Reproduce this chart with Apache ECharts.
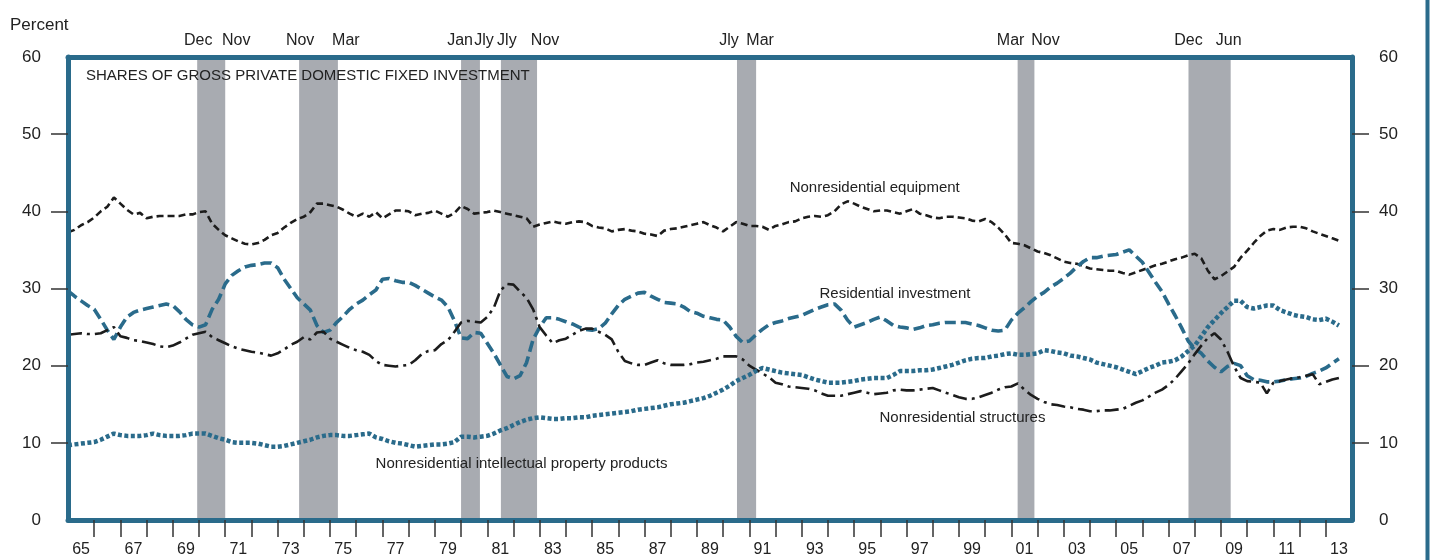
<!DOCTYPE html>
<html>
<head>
<meta charset="utf-8">
<script src="https://cdn.jsdelivr.net/npm/echarts@6/dist/echarts.min.js"></script>
<style>
  html, body { margin: 0; padding: 0; background: #fff; }
  #chart { width: 1437px; height: 560px; }
</style>
</head>
<body>
<div id="chart"></div>
<script>
// quarterly shares (percent), first value is 1965 Q1
const startYear = 1965

const equipment = [
  37.3, 37.6, 38.2, 38.6,  39.2, 40.0, 40.6, 41.8,  41.0, 40.2, 39.6, 39.8,  39.1, 39.3, 39.4, 39.4,
  39.4, 39.4, 39.6, 39.6,  39.9, 40.0, 38.4, 37.6,  36.9, 36.5, 36.1, 35.8,  35.7, 35.9, 36.3, 36.9,
  37.2, 37.9, 38.5, 39.0,  39.3, 39.9, 41.0, 41.0,  40.8, 40.6, 40.2, 39.7,  39.3, 39.7, 39.3, 39.9,
  39.1, 39.6, 40.1, 40.1,  40.0, 39.5, 39.7, 39.8,  40.1, 39.7, 39.3, 39.8,  40.7, 40.3, 39.7, 39.8,
  39.9, 40.1, 39.9, 39.7,  39.5, 39.3, 39.1, 38.0,  38.3, 38.5, 38.7, 38.5,  38.4, 38.6, 38.7, 38.6,
  38.1, 37.9, 37.8, 37.4,  37.6, 37.7, 37.5, 37.4,  37.1, 37.0, 36.8, 37.5,  37.7, 37.8, 38.0, 38.2,
  38.4, 38.6, 38.2, 37.9,  37.4, 38.0, 38.6, 38.4,  38.1, 38.1, 38.0, 37.6,  38.1, 38.3, 38.6, 38.7,
  39.1, 39.3, 39.4, 39.3,  39.5, 40.0, 40.9, 41.3,  41.0, 40.6, 40.3, 40.0,  40.1, 40.1, 39.9, 39.7,
  40.0, 40.3, 39.7, 39.5,  39.2, 39.1, 39.3, 39.3,  39.2, 39.1, 38.8, 38.7,  39.0, 38.6, 37.9, 37.0,
  35.9, 35.8, 35.6, 35.2,  34.8, 34.6, 34.3, 33.9,  33.5, 33.3, 33.2, 32.9,  32.6, 32.5, 32.4, 32.3,
  32.3, 32.0, 31.8, 32.1,  32.4, 32.7, 33.0, 33.2,  33.5, 33.8, 34.0, 34.3,  34.5, 33.9, 32.3, 31.2,
  31.6, 32.2, 32.8, 34.0,  34.9, 35.9, 36.8, 37.5,  37.7, 37.6, 37.9, 38.0,  38.0, 37.8, 37.4, 37.1,
  36.8, 36.5, 36.2
]

const residential = [
  29.7, 29.0, 28.4, 27.8,  27.3, 26.0, 24.6, 23.4,  25.0, 26.3, 26.9, 27.2,  27.4, 27.6, 27.8, 28.0,
  27.8, 27.0, 26.0, 25.3,  25.0, 25.3, 27.3, 28.6,  30.6, 31.7, 32.3, 32.8,  33.0, 33.1, 33.3, 33.3,
  32.7, 31.2, 30.0, 28.8,  28.0, 27.2, 25.2, 24.3,  24.6, 25.6, 26.4, 27.3,  28.0, 28.5, 29.2, 29.8,
  31.2, 31.3, 31.0, 30.8,  30.8, 30.4, 29.9, 29.4,  28.9, 28.5, 27.6, 25.8,  23.6, 23.5, 24.3, 24.2,
  22.9, 21.6, 20.1, 18.6,  18.3, 18.7, 20.4, 23.4,  25.0, 26.2, 26.2, 26.0,  25.7, 25.4, 25.0, 24.7,
  24.6, 24.8, 25.5, 26.7,  27.8, 28.6, 29.0, 29.4,  29.5, 29.0, 28.6, 28.2,  28.1, 28.0, 27.6, 27.0,
  26.8, 26.4, 26.2, 26.0,  25.9, 25.0, 23.8, 23.0,  23.2, 24.0, 24.7, 25.3,  25.6, 25.8, 26.1, 26.3,
  26.5, 26.9, 27.3, 27.6,  27.9, 28.0, 27.2, 25.9,  25.0, 25.3, 25.6, 26.0,  26.3, 25.8, 25.2, 25.0,
  24.9, 24.7, 24.9, 25.2,  25.3, 25.5, 25.6, 25.6,  25.6, 25.6, 25.4, 25.2,  24.9, 24.6, 24.5, 24.6,
  25.9, 26.8, 27.5, 28.3,  29.0, 29.5, 30.2, 30.7,  31.3, 32.0, 32.8, 33.5,  34.0, 34.0, 34.2, 34.3,
  34.4, 34.7, 35.0, 34.2,  33.4, 32.1, 30.8, 29.6,  28.0, 26.5, 24.9, 23.2,  22.2, 21.6, 20.6, 19.8,
  19.2, 19.9, 20.3, 20.0,  18.7, 18.2, 18.1, 17.9,  17.9, 18.0, 18.2, 18.3,  18.4, 18.6, 19.0, 19.3,
  19.7, 20.3, 20.9
]

const structures = [
  24.0, 24.1, 24.2, 24.1,  24.1, 24.2, 24.6, 25.0,  23.8, 23.6, 23.3, 23.2,  23.0, 22.8, 22.5, 22.4,
  22.6, 23.0, 23.5, 24.0,  24.2, 24.4, 23.7, 23.3,  22.9, 22.5, 22.2, 22.0,  21.8, 21.7, 21.5, 21.3,
  21.6, 22.1, 22.7, 23.1,  23.7, 23.4, 24.3, 24.4,  23.5, 23.1, 22.7, 22.3,  22.0, 21.8, 21.4, 20.6,
  20.1, 20.0, 19.9, 20.0,  20.1, 20.7, 21.5, 21.9,  22.0, 22.8, 23.3, 24.4,  25.6, 25.8, 25.7, 25.6,
  26.3, 27.5, 29.7, 30.6,  30.5, 29.6, 28.8, 27.3,  25.0, 23.9, 22.9, 23.3,  23.5, 24.0, 24.5, 24.8,
  24.8, 24.4, 24.0, 23.4,  21.8, 20.6, 20.3, 20.1,  20.1, 20.4, 20.7, 20.3,  20.1, 20.1, 20.1, 20.2,
  20.4, 20.5, 20.7, 20.9,  21.2, 21.2, 21.2, 20.8,  20.0, 19.5, 19.0, 18.5,  17.8, 17.6, 17.3, 17.2,
  17.1, 17.0, 16.8, 16.4,  16.1, 16.1, 16.1, 16.3,  16.5, 16.7, 16.5, 16.3,  16.4, 16.5, 16.8, 16.9,
  16.8, 16.8, 16.9, 17.0,  17.1, 16.8, 16.5, 16.2,  15.9, 15.7, 15.7, 15.9,  16.2, 16.5, 16.9, 17.2,
  17.3, 17.7, 16.9, 16.2,  15.7, 15.3, 15.0, 14.9,  14.7, 14.6, 14.4, 14.3,  14.1, 14.1, 14.2, 14.2,
  14.3, 14.4, 14.8, 15.2,  15.5, 16.0, 16.5, 16.9,  17.5, 18.3, 19.3, 20.3,  21.5, 22.6, 23.6, 24.2,
  23.4, 21.8, 19.9, 18.4,  18.0, 17.9, 17.8, 16.4,  17.8, 18.0, 18.2, 18.4,  18.5, 18.7, 18.9, 17.6,
  17.9, 18.2, 18.4
]

const ipp = [
  9.7, 9.8, 9.9, 10.0,  10.1, 10.4, 10.8, 11.2,  11.0, 10.9, 10.9, 10.9,  11.0, 11.2, 11.0, 10.9,
  10.9, 10.9, 11.0, 11.2,  11.2, 11.2, 10.9, 10.6,  10.4, 10.1, 10.0, 10.0,  10.0, 9.9, 9.7, 9.5,
  9.5, 9.6, 9.8, 10.0,  10.2, 10.4, 10.7, 10.9,  11.0, 11.0, 10.9, 10.9,  11.0, 11.1, 11.2, 10.7,
  10.5, 10.2, 10.0, 9.9,  9.7, 9.5, 9.6, 9.7,  9.8, 9.8, 9.9, 10.1,  10.8, 10.8, 10.7, 10.8,
  10.9, 11.2, 11.6, 11.9,  12.3, 12.7, 13.0, 13.2,  13.3, 13.2, 13.1, 13.1,  13.2, 13.2, 13.3, 13.3,
  13.5, 13.6, 13.7, 13.8,  13.9, 14.0, 14.1, 14.3,  14.4, 14.5, 14.6, 14.8,  15.0, 15.1, 15.2, 15.4,
  15.6, 15.8, 16.1, 16.5,  16.9, 17.4, 18.0, 18.4,  18.8, 19.3, 19.7, 19.5,  19.3, 19.1, 19.0, 18.9,
  18.8, 18.5, 18.2, 18.0,  17.8, 17.8, 17.8, 17.9,  18.0, 18.2, 18.3, 18.4,  18.4, 18.4, 18.8, 19.3,
  19.3, 19.3, 19.4, 19.4,  19.5, 19.7, 19.9, 20.1,  20.4, 20.7, 20.9, 21.0,  21.0, 21.2, 21.3, 21.5,
  21.6, 21.4, 21.4, 21.5,  21.6, 22.0, 21.9, 21.7,  21.6, 21.3, 21.2, 21.0,  20.8, 20.4, 20.2, 20.0,
  19.8, 19.5, 19.2, 18.9,  19.3, 19.7, 20.0, 20.4,  20.5, 20.7, 21.2, 21.9,  22.6, 23.8, 25.0, 25.9,
  26.8, 27.6, 28.4, 28.4,  27.6, 27.4, 27.6, 27.8,  27.8, 27.2, 26.9, 26.6,  26.4, 26.3, 26.0, 25.9,
  26.1, 25.7, 25.2
]

// recession bands (decimal years, as drawn) and the month names printed above them
const recessionStart = [1969.93, 1973.82, 1980.0, 1981.52, 1990.53, 2001.24, 2007.76]
const recessionEnd = [1971.0, 1975.3, 1980.72, 1982.9, 1991.26, 2001.88, 2009.37]
const recessionStartMonth = ['Dec', 'Nov', 'Jan', 'Jly', 'Jly', 'Mar', 'Dec']
const recessionEndMonth = ['Nov', 'Mar', 'Jly', 'Nov', 'Mar', 'Nov', 'Jun']
// horizontal nudges (px) so the month names sit as typeset
const startLabelShift = [1, 1, -1, 6, -8, -7, 0]
const endLabelShift = [11, 8, 4, 8, 4, 11, -2]

// year ticks between labels, labels centred on odd years
const yearTicks = []
for (let y = 1966; y <= 2013; y++) yearTicks.push(y)
const yearLabels = []
for (let y = 1965; y <= 2013; y += 2) yearLabels.push(y + 0.5)
const percentTicks = [10, 20, 30, 40, 50]

const teal = '#2a6b8b'
const ink = '#1c1c1c'
const font = "'Liberation Sans', Arial, sans-serif"

function toPoints(values) {
  return values.map((v, i) => [startYear + i / 4, v])
}

// invisible anchor with a text label, used for series names
function note(x, y, text) {
  return {
    symbol: 'circle', symbolSize: 1, silent: true,
    itemStyle: { color: 'rgba(0,0,0,0)' },
    label: { show: true, position: 'right', distance: 0, formatter: '{b}', color: '#222', fontSize: 15, fontFamily: font },
    data: [{ coord: [x, y], name: text }]
  }
}

const monthMarks = []
recessionStart.forEach((s, i) => {
  monthMarks.push({ coord: [s, 60], name: recessionStartMonth[i], label: { offset: [startLabelShift[i], 0] } })
  monthMarks.push({ coord: [recessionEnd[i], 60], name: recessionEndMonth[i], label: { offset: [endLabelShift[i], 0] } })
})

const chart = echarts.init(document.getElementById('chart'))

const option = {
  animation: false,
  title: [
    { text: 'Percent', left: 5, top: 12, textStyle: { fontSize: 17, fontWeight: 'normal', color: '#222', fontFamily: font } },
    { text: 'SHARES OF GROSS PRIVATE DOMESTIC FIXED INVESTMENT', left: 81, top: 63,
      textStyle: { fontSize: 15, fontWeight: 'normal', color: '#222', fontFamily: font } }
  ],
  grid: { left: 68, right: 85, top: 57, bottom: 40, containLabel: false },
  xAxis: [
    {
      type: 'value', min: 1965, max: 2014, position: 'bottom', z: 5,
      axisLine: { show: true, onZero: false, lineStyle: { color: teal, width: 5 } },
      axisTick: { show: true, customValues: yearTicks, length: 17, lineStyle: { color: '#333', width: 1.5 } },
      axisLabel: {
        customValues: yearLabels, margin: 22, fontSize: 16, color: '#222', fontFamily: font,
        formatter: v => String(Math.floor(v) % 100).padStart(2, '0')
      },
      splitLine: { show: false }
    },
    {
      type: 'value', min: 1965, max: 2014, position: 'top', z: 5,
      axisLine: { show: true, onZero: false, lineStyle: { color: teal, width: 5 } },
      axisTick: { show: false }, axisLabel: { show: false }, splitLine: { show: false }
    }
  ],
  yAxis: [
    {
      type: 'value', min: 0, max: 60, interval: 10, position: 'left', z: 5,
      axisLine: { show: true, onZero: false, lineStyle: { color: teal, width: 5 } },
      axisTick: { show: true, customValues: percentTicks, length: 17, lineStyle: { color: '#333', width: 1.5 } },
      axisLabel: { margin: 27, fontSize: 17, color: '#222', fontFamily: font },
      splitLine: { show: false }
    },
    {
      type: 'value', min: 0, max: 60, interval: 10, position: 'right', z: 5,
      axisLine: { show: true, onZero: false, lineStyle: { color: teal, width: 5 } },
      axisTick: { show: true, customValues: percentTicks, length: 17, lineStyle: { color: '#333', width: 1.5 } },
      axisLabel: { margin: 27, fontSize: 17, color: '#222', fontFamily: font },
      splitLine: { show: false }
    }
  ],
  series: [
    {
      name: 'recessions', type: 'line', data: [], z: 1, silent: true,
      markArea: {
        silent: true,
        itemStyle: { color: '#a8abb1' },
        data: recessionStart.map((s, i) => [{ xAxis: s }, { xAxis: recessionEnd[i] }])
      },
      markPoint: {
        symbol: 'circle', symbolSize: 1, silent: true,
        itemStyle: { color: 'rgba(0,0,0,0)' },
        label: { show: true, position: 'top', distance: 8, formatter: '{b}', color: '#222', fontSize: 16, fontFamily: font },
        data: monthMarks
      }
    },
    {
      name: 'Nonresidential equipment', type: 'line', z: 3, symbol: 'none',
      data: toPoints(equipment),
      lineStyle: { color: ink, width: 2.6, type: [7, 4] },
      markPoint: note(1992.52, 43.1, 'Nonresidential equipment')
    },
    {
      name: 'Residential investment', type: 'line', z: 3, symbol: 'none',
      data: toPoints(residential),
      lineStyle: { color: teal, width: 3.6, type: [11, 5] },
      markPoint: note(1993.66, 29.3, 'Residential investment')
    },
    {
      name: 'Nonresidential structures', type: 'line', z: 3, symbol: 'none',
      data: toPoints(structures),
      lineStyle: { color: ink, width: 2.6, type: [14, 5, 3, 5] },
      markPoint: note(1995.95, 13.3, 'Nonresidential structures')
    },
    {
      name: 'Nonresidential intellectual property products', type: 'line', z: 3, symbol: 'none',
      data: toPoints(ipp),
      lineStyle: { color: teal, width: 4.5, type: [4, 2.5] },
      markPoint: note(1976.72, 7.25, 'Nonresidential intellectual property products')
    }
  ],
  graphic: [
    { type: 'line', silent: true, shape: { x1: 1427.5, y1: 0, x2: 1427.5, y2: 560 }, style: { stroke: teal, lineWidth: 4 } }
  ]
}

chart.setOption(option)
</script>
</body>
</html>
